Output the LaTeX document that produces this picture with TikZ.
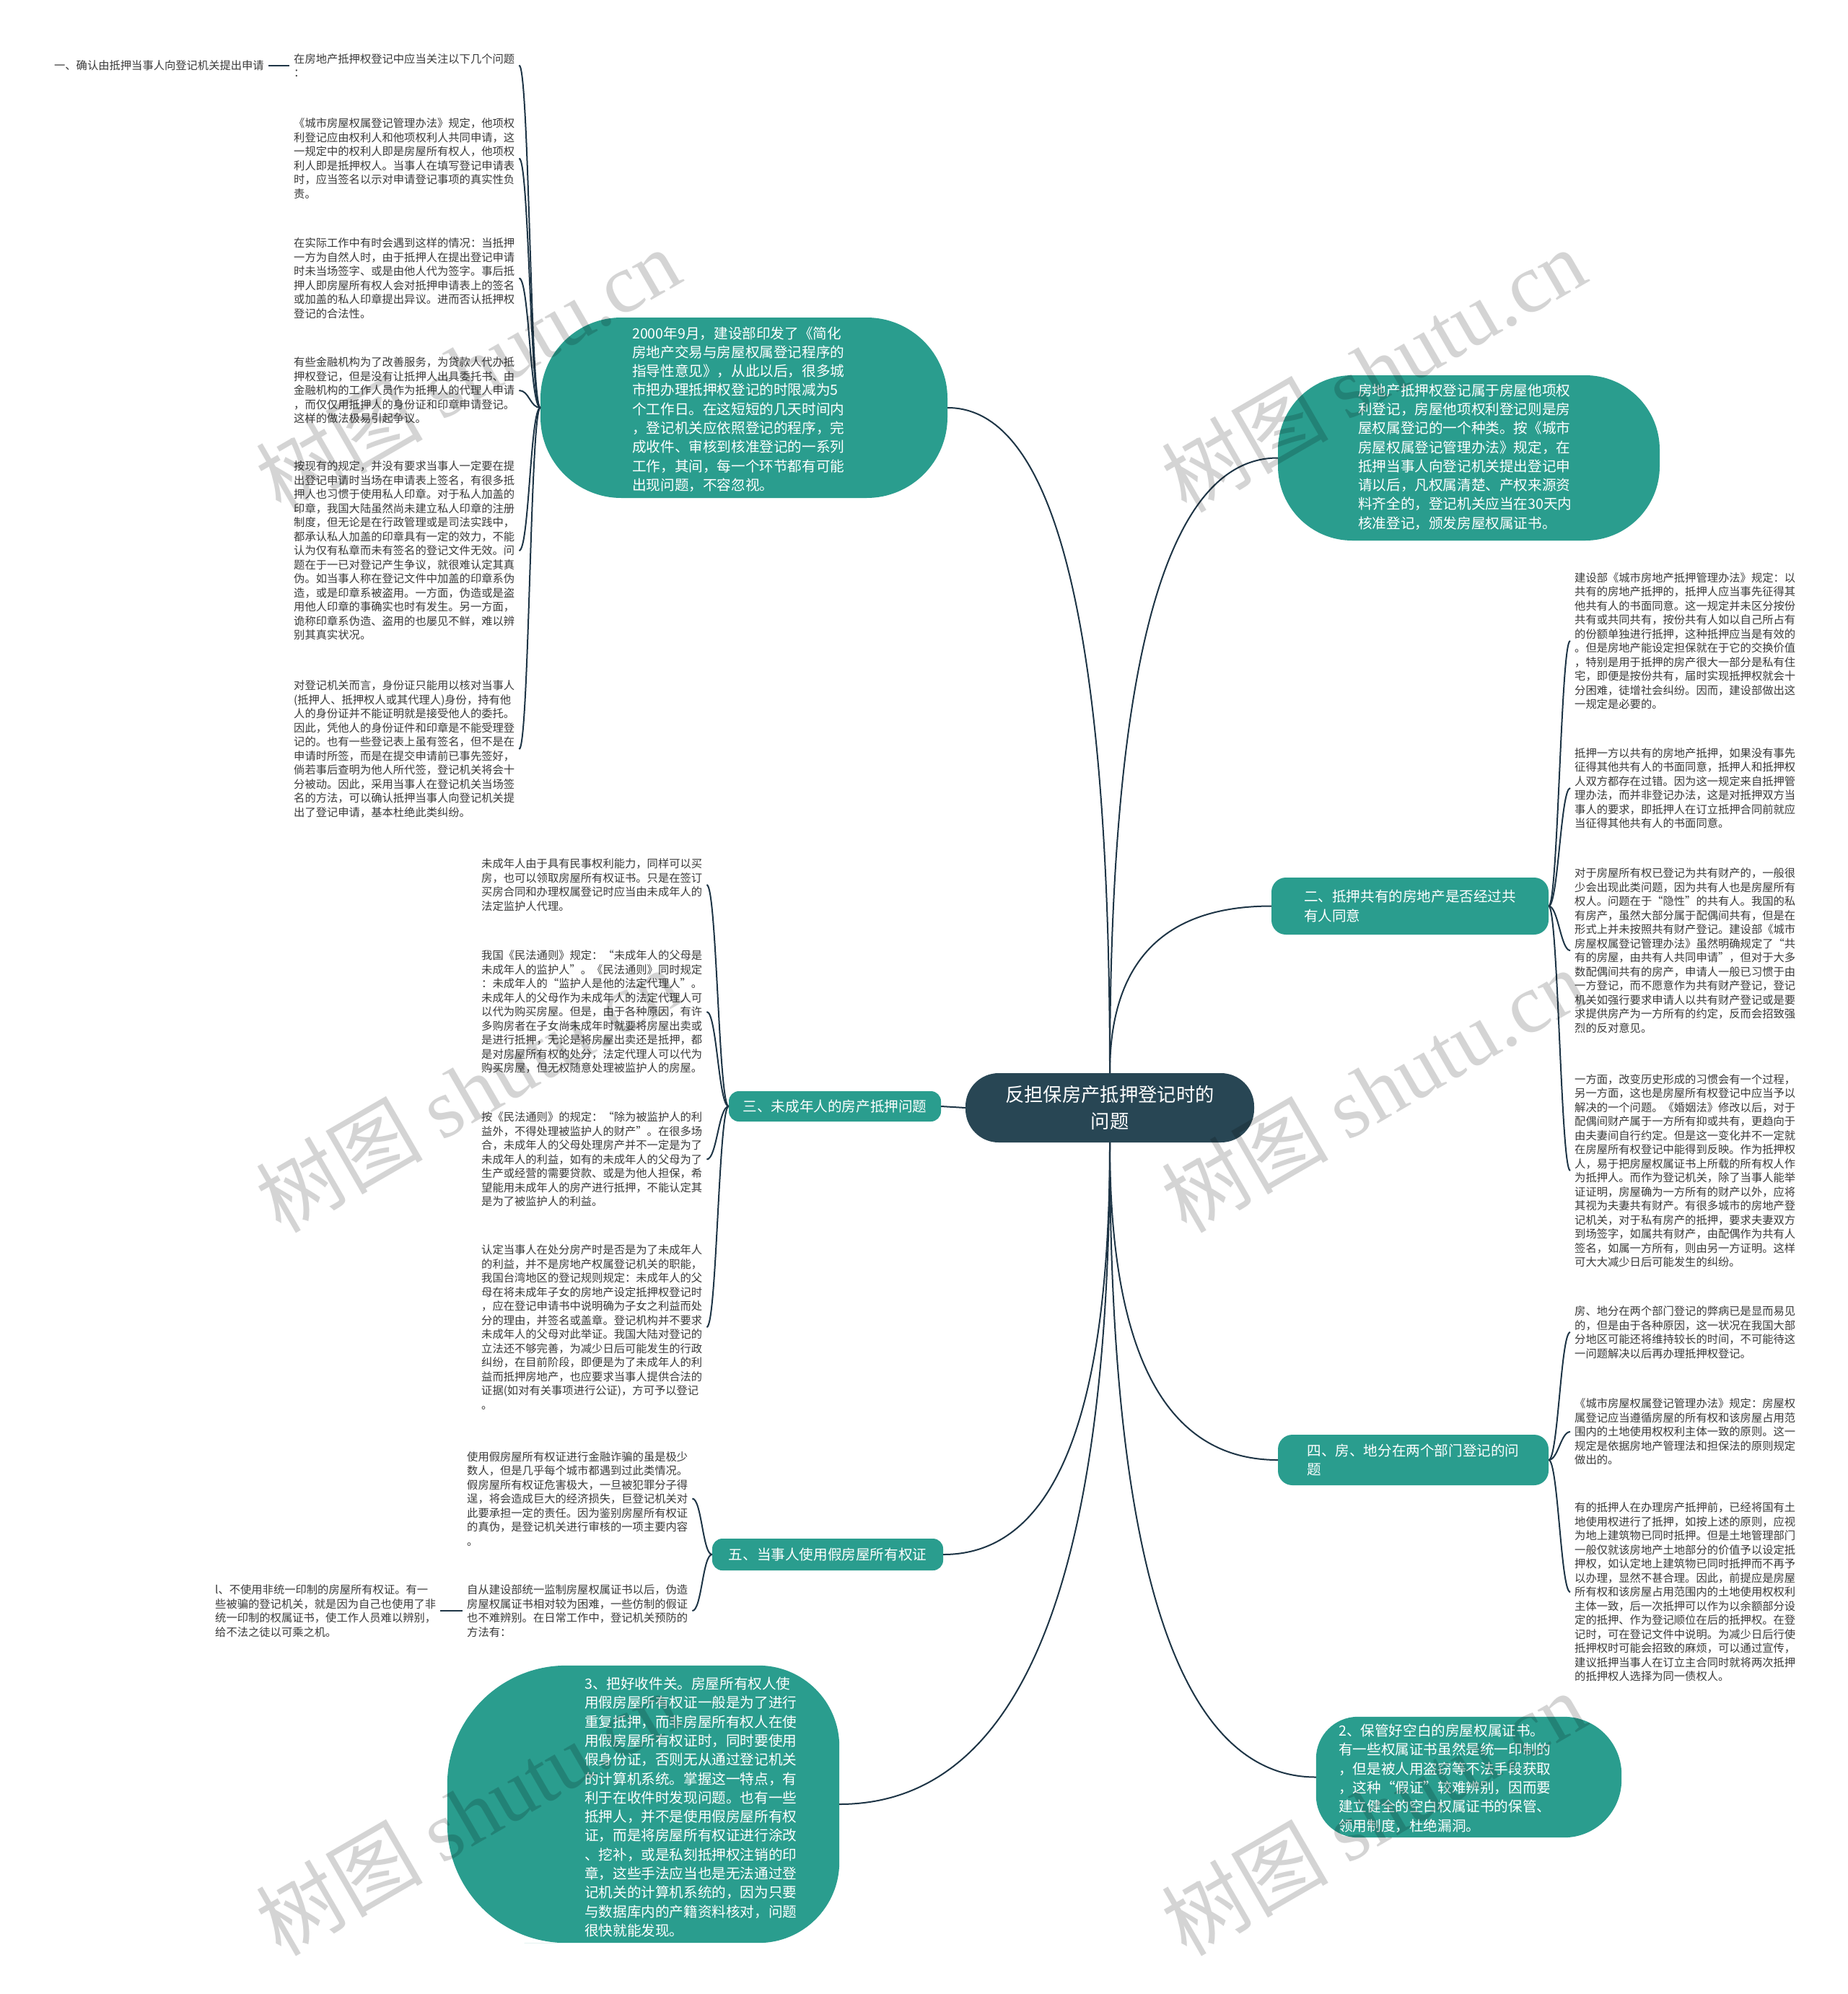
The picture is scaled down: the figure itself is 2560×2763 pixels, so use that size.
\documentclass[tikz,border=0pt]{standalone}
\usepackage{fontspec}
\setmainfont{Noto Sans CJK SC}
\newfontfamily\wmserif{Liberation Serif}
\usetikzlibrary{calc}
\definecolor{rootfill}{HTML}{284654}
\definecolor{pillfill}{HTML}{2A9D8E}
\definecolor{linkcol}{HTML}{1E3546}
\definecolor{leafcol}{HTML}{3A3A3A}

\begin{document}
\begin{tikzpicture}[
  x=1pt, y=-1pt,
  link/.style={draw=linkcol, line width=2pt},
  root/.style={fill=rootfill, text=white, rounded corners=46pt, minimum width=400pt, minimum height=96pt, align=center, inner sep=0pt, font=\fontsize{26.3}{36.7}\selectfont},
  pill/.style={fill=pillfill, inner sep=0pt},
  pillbox/.style={inner sep=0pt},
  pilltext/.style={text=white, anchor=west, inner sep=0pt, align=left, font=\fontsize{19.6}{26.3}\selectfont},
  topic/.style={fill=pillfill, text=white, rounded corners=20pt, align=left, inner sep=0pt, font=\fontsize{19.6}{26.3}\selectfont},
  leaf/.style={text=leafcol, anchor=west, inner xsep=6pt, inner ysep=2pt, align=left, font=\fontsize{15.3}{19.5}\selectfont},
  wm/.style={rotate=30, opacity=0.17, inner sep=0pt, font=\fontsize{116}{116}\selectfont},
]
  \useasboundingbox[fill=white] (0,0) rectangle (2560,2763);
  % curve from the root to a main topic, and from a topic to its notes
  \newcommand{\branchto}[2]{% #1 start anchor, #2 end anchor
    \draw[link] (#1) .. controls ($(#1)!.667!(#1 |- #2)$) and ($(#2)!.667!(#1 |- #2)$) .. (#2);}
  \newcommand{\twigto}[3]{% #1 start, #2 end, #3 horizontal pull
    \draw[link] (#1) .. controls +(#3,0) and +({-(#3)},0) .. (#2);}
  % pill with other radii on the left and on the right
  \newcommand{\pillshape}[3]{% #1 node, #2 left radius, #3 right radius
    \fill[pillfill] (#1.north) [rounded corners=#2] -- (#1.north west) -- (#1.south west) -- (#1.south)
      [rounded corners=#3] -- (#1.south east) -- (#1.north east) -- cycle;}

  % root
  \node[root] (root) at (1538,1535) {反担保房产抵押登记时的\\问题};

  % big green pills
  \node[pill, minimum width=564pt, minimum height=250pt, rounded corners=112pt] (timeline) at (1031,565) {};
  \node[pilltext] (timeline-t) at (876,567) {2000年9月，建设部印发了《简化\\房地产交易与房屋权属登记程序的\\指导性意见》，从此以后，很多城\\市把办理抵押权登记的时限减为5\\个工作日。在这短短的几天时间内\\，登记机关应依照登记的程序，完\\成收件、审核到核准登记的一系列\\工作，其间，每一个环节都有可能\\出现问题，不容忽视。};

  \node[pill, minimum width=529pt, minimum height=229pt, rounded corners=103pt] (otherright) at (2035.5,634.5) {};
  \node[pilltext] (otherright-t) at (1882,633) {房地产抵押权登记属于房屋他项权\\利登记，房屋他项权利登记则是房\\屋权属登记的一个种类。按《城市\\房屋权属登记管理办法》规定，在\\抵押当事人向登记机关提出登记申\\请以后，凡权属清楚、产权来源资\\料齐全的，登记机关应当在30天内\\核准登记，颁发房屋权属证书。};

  \node[pillbox, minimum width=543pt, minimum height=384pt] (recvcheck) at (891.5,2500) {};
  \pillshape{recvcheck}{165pt}{112pt}
  \node[pilltext] (recvcheck-t) at (810,2504) {3、把好收件关。房屋所有权人使\\用假房屋所有权证一般是为了进行\\重复抵押，而非房屋所有权人在使\\用假房屋所有权证时，同时要使用\\假身份证，否则无从通过登记机关\\的计算机系统。掌握这一特点，有\\利于在收件时发现问题。也有一些\\抵押人，并不是使用假房屋所有权\\证，而是将房屋所有权证进行涂改\\、挖补，或是私刻抵押权注销的印\\章，这些手法应当也是无法通过登\\记机关的计算机系统的，因为只要\\与数据库内的产籍资料核对，问题\\很快就能发现。};

  \node[pillbox, minimum width=423pt, minimum height=167pt] (blankcert) at (2035.5,2462.5) {};
  \pillshape{blankcert}{58pt}{80pt}
  \node[pilltext] (blankcert-t) at (1855,2464) {2、保管好空白的房屋权属证书。\\有一些权属证书虽然是统一印制的\\，但是被人用盗窃等不法手段获取\\，这种“假证”较难辨别，因而要\\建立健全的空白权属证书的保管、\\领用制度，杜绝漏洞。};

  % topics
  \node[topic, minimum width=384pt, minimum height=79pt] (shared) at (1954,1255.5) {二、抵押共有的房地产是否经过共\\有人同意};
  \node[topic, minimum width=375pt, minimum height=70pt] (split) at (1958.5,2023) {四、房、地分在两个部门登记的问\\题};
  \node[topic, minimum width=294pt, minimum height=42pt, rounded corners=14pt] (minor) at (1157,1533) {三、未成年人的房产抵押问题};
  \node[topic, minimum width=320pt, minimum height=44pt, rounded corners=14pt] (fakecert) at (1147,2154) {五、当事人使用假房屋所有权证};

  % notes of the first pill
  \node[leaf] (ask) at (401,90.5) {在房地产抵押权登记中应当关注以下几个问题\\：};
  \node[leaf, anchor=east] (apply) at (372,90.5) {一、确认由抵押当事人向登记机关提出申请};
  \node[leaf] (rule) at (401,219.5) {《城市房屋权属登记管理办法》规定，他项权\\利登记应由权利人和他项权利人共同申请，这\\一规定中的权利人即是房屋所有权人，他项权\\利人即是抵押权人。当事人在填写登记申请表\\时，应当签名以示对申请登记事项的真实性负\\责。};
  \node[leaf] (sign) at (401,385.5) {在实际工作中有时会遇到这样的情况：当抵押\\一方为自然人时，由于抵押人在提出登记申请\\时未当场签字、或是由他人代为签字。事后抵\\押人即房屋所有权人会对抵押申请表上的签名\\或加盖的私人印章提出异议。进而否认抵押权\\登记的合法性。};
  \node[leaf] (bank) at (401,541) {有些金融机构为了改善服务，为贷款人代办抵\\押权登记，但是没有让抵押人出具委托书、由\\金融机构的工作人员作为抵押人的代理人申请\\，而仅仅用抵押人的身份证和印章申请登记。\\这样的做法极易引起争议。};
  \node[leaf] (seal) at (401,763) {按现有的规定，并没有要求当事人一定要在提\\出登记申请时当场在申请表上签名，有很多抵\\押人也习惯于使用私人印章。对于私人加盖的\\印章，我国大陆虽然尚未建立私人印章的注册\\制度，但无论是在行政管理或是司法实践中，\\都承认私人加盖的印章具有一定的效力，不能\\认为仅有私章而未有签名的登记文件无效。问\\题在于一已对登记产生争议，就很难认定其真\\伪。如当事人称在登记文件中加盖的印章系伪\\造，或是印章系被盗用。一方面，伪造或是盗\\用他人印章的事确实也时有发生。另一方面，\\诡称印章系伪造、盗用的也屡见不鲜，难以辨\\别其真实状况。};
  \node[leaf] (idcard) at (401,1038) {对登记机关而言，身份证只能用以核对当事人\\(抵押人、抵押权人或其代理人)身份，持有他\\人的身份证并不能证明就是接受他人的委托。\\因此，凭他人的身份证件和印章是不能受理登\\记的。也有一些登记表上虽有签名，但不是在\\申请时所签，而是在提交申请前已事先签好，\\倘若事后查明为他人所代签，登记机关将会十\\分被动。因此，采用当事人在登记机关当场签\\名的方法，可以确认抵押当事人向登记机关提\\出了登记申请，基本杜绝此类纠纷。};

  % notes of topic two
  \node[leaf] (share1) at (2176,888) {建设部《城市房地产抵押管理办法》规定：以\\共有的房地产抵押的，抵押人应当事先征得其\\他共有人的书面同意。这一规定并未区分按份\\共有或共同共有，按份共有人如以自己所占有\\的份额单独进行抵押，这种抵押应当是有效的\\。但是房地产能设定担保就在于它的交换价值\\，特别是用于抵押的房产很大一部分是私有住\\宅，即便是按份共有，届时实现抵押权就会十\\分困难，徒增社会纠纷。因而，建设部做出这\\一规定是必要的。};
  \node[leaf] (share2) at (2176,1092) {抵押一方以共有的房地产抵押，如果没有事先\\征得其他共有人的书面同意，抵押人和抵押权\\人双方都存在过错。因为这一规定来自抵押管\\理办法，而并非登记办法，这是对抵押双方当\\事人的要求，即抵押人在订立抵押合同前就应\\当征得其他共有人的书面同意。};
  \node[leaf] (share3) at (2176,1317) {对于房屋所有权已登记为共有财产的，一般很\\少会出现此类问题，因为共有人也是房屋所有\\权人。问题在于“隐性”的共有人。我国的私\\有房产，虽然大部分属于配偶间共有，但是在\\形式上并未按照共有财产登记。建设部《城市\\房屋权属登记管理办法》虽然明确规定了“共\\有的房屋，由共有人共同申请”，但对于大多\\数配偶间共有的房产，申请人一般已习惯于由\\一方登记，而不愿意作为共有财产登记，登记\\机关如强行要求申请人以共有财产登记或是要\\求提供房产为一方所有的约定，反而会招致强\\烈的反对意见。};
  \node[leaf] (share4) at (2176,1622) {一方面，改变历史形成的习惯会有一个过程，\\另一方面，这也是房屋所有权登记中应当予以\\解决的一个问题。《婚姻法》修改以后，对于\\配偶间财产属于一方所有抑或共有，更趋向于\\由夫妻间自行约定。但是这一变化并不一定就\\在房屋所有权登记中能得到反映。作为抵押权\\人，易于把房屋权属证书上所载的所有权人作\\为抵押人。而作为登记机关，除了当事人能举\\证证明，房屋确为一方所有的财产以外，应将\\其视为夫妻共有财产。有很多城市的房地产登\\记机关，对于私有房产的抵押，要求夫妻双方\\到场签字，如属共有财产，由配偶作为共有人\\签名，如属一方所有，则由另一方证明。这样\\可大大减少日后可能发生的纠纷。};

  % notes of topic four
  \node[leaf] (land1) at (2176,1846) {房、地分在两个部门登记的弊病已是显而易见\\的，但是由于各种原因，这一状况在我国大部\\分地区可能还将维持较长的时间，不可能待这\\一问题解决以后再办理抵押权登记。};
  \node[leaf] (land2) at (2176,1984) {《城市房屋权属登记管理办法》规定：房屋权\\属登记应当遵循房屋的所有权和该房屋占用范\\围内的土地使用权权利主体一致的原则。这一\\规定是依据房地产管理法和担保法的原则规定\\做出的。};
  \node[leaf] (land3) at (2176,2206) {有的抵押人在办理房产抵押前，已经将国有土\\地使用权进行了抵押，如按上述的原则，应视\\为地上建筑物已同时抵押。但是土地管理部门\\一般仅就该房地产土地部分的价值予以设定抵\\押权，如认定地上建筑物已同时抵押而不再予\\以办理，显然不甚合理。因此，前提应是房屋\\所有权和该房屋占用范围内的土地使用权权利\\主体一致，后一次抵押可以作为以余额部分设\\定的抵押、作为登记顺位在后的抵押权。在登\\记时，可在登记文件中说明。为减少日后行使\\抵押权时可能会招致的麻烦，可以通过宣传，\\建议抵押当事人在订立主合同时就将两次抵押\\的抵押权人选择为同一债权人。};

  % notes of topic three
  \node[leaf] (minor1) at (661,1226) {未成年人由于具有民事权利能力，同样可以买\\房，也可以领取房屋所有权证书。只是在签订\\买房合同和办理权属登记时应当由未成年人的\\法定监护人代理。};
  \node[leaf] (minor2) at (661,1402) {我国《民法通则》规定：“未成年人的父母是\\未成年人的监护人”。《民法通则》同时规定\\：未成年人的“监护人是他的法定代理人”。\\未成年人的父母作为未成年人的法定代理人可\\以代为购买房屋。但是，由于各种原因，有许\\多购房者在子女尚未成年时就要将房屋出卖或\\是进行抵押，无论是将房屋出卖还是抵押，都\\是对房屋所有权的处分，法定代理人可以代为\\购买房屋，但无权随意处理被监护人的房屋。};
  \node[leaf] (minor3) at (661,1606.5) {按《民法通则》的规定：“除为被监护人的利\\益外，不得处理被监护人的财产”。在很多场\\合，未成年人的父母处理房产并不一定是为了\\未成年人的利益，如有的未成年人的父母为了\\生产或经营的需要贷款、或是为他人担保，希\\望能用未成年人的房产进行抵押，不能认定其\\是为了被监护人的利益。};
  \node[leaf] (minor4) at (661,1839) {认定当事人在处分房产时是否是为了未成年人\\的利益，并不是房地产权属登记机关的职能，\\我国台湾地区的登记规则规定：未成年人的父\\母在将未成年子女的房地产设定抵押权登记时\\，应在登记申请书中说明确为子女之利益而处\\分的理由，并签名或盖章。登记机构并不要求\\未成年人的父母对此举证。我国大陆对登记的\\立法还不够完善，为减少日后可能发生的行政\\纠纷，在目前阶段，即便是为了未成年人的利\\益而抵押房地产，也应要求当事人提供合法的\\证据(如对有关事项进行公证)，方可予以登记\\。};

  % notes of topic five
  \node[leaf] (fakerisk) at (641,2076.5) {使用假房屋所有权证进行金融诈骗的虽是极少\\数人，但是几乎每个城市都遇到过此类情况。\\假房屋所有权证危害极大，一旦被犯罪分子得\\逞，将会造成巨大的经济损失，巨登记机关对\\此要承担一定的责任。因为鉴别房屋所有权证\\的真伪，是登记机关进行审核的一项主要内容\\。};
  \node[leaf] (fakeway) at (641,2232) {自从建设部统一监制房屋权属证书以后，伪造\\房屋权属证书相对较为困难，一些仿制的假证\\也不难辨别。在日常工作中，登记机关预防的\\方法有：};
  \node[leaf] (fakeone) at (292,2232) {l、不使用非统一印制的房屋所有权证。有一\\些被骗的登记机关，就是因为自己也使用了非\\统一印制的权属证书，使工作人员难以辨别，\\给不法之徒以可乘之机。};

  % root to topics
  \branchto{root.north}{timeline.east}
  \branchto{root.north}{otherright.west}
  \branchto{root.north}{shared.west}
  \draw[link] (root.west) -- (minor.east);
  \branchto{root.south}{split.west}
  \branchto{root.south}{blankcert.west}
  \branchto{root.south}{recvcheck.east}
  \branchto{root.south}{fakecert.east}

  % topics to notes
  \foreach \n in {ask,rule,sign,bank,seal,idcard} {\twigto{timeline.west}{\n.east}{-14}}
  \foreach \n in {share1,share2,share3,share4} {\twigto{shared.east}{\n.west}{13}}
  \foreach \n in {land1,land2,land3} {\twigto{split.east}{\n.west}{13}}
  \foreach \n in {minor1,minor2,minor3,minor4} {\twigto{minor.west}{\n.east}{-14}}
  \foreach \n in {fakerisk,fakeway} {\twigto{fakecert.west}{\n.east}{-13}}
  \draw[link] (apply.east) -- (ask.west);
  \draw[link] (fakeone.east) -- (fakeway.west);

  % watermark
  \foreach \wx in {648,1903} \foreach \wy in {512,1510,2512}
    \node[wm] at (\wx,\wy) {树图 {\wmserif shutu.cn}};
\end{tikzpicture}
\end{document}
